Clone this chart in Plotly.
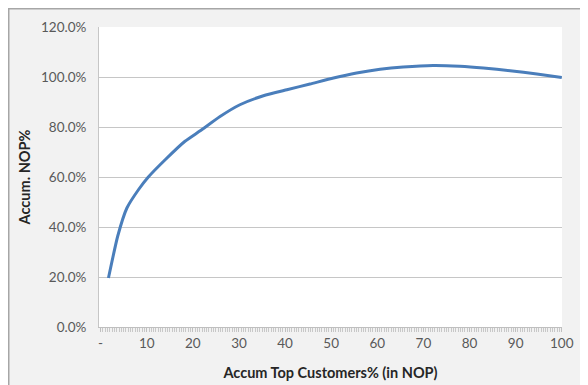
import plotly.graph_objects as go

# Accumulated top customers (% of customers, in NOP order)
customers_pct = [1.7, 3.7, 5.7, 8.2, 10.3, 14.0, 18.3, 21.6, 25.9, 30.2, 35.3,
                 40.4, 45.4, 50.5, 55.5, 60.6, 65.6, 72.1, 77.9, 83.0, 88.8,
                 94.6, 100.0]
# Accumulated NOP share
accum_nop = [0.196, 0.363, 0.476, 0.549, 0.599, 0.669, 0.743, 0.785, 0.842,
             0.889, 0.925, 0.949, 0.972, 0.996, 1.016, 1.031, 1.040, 1.046,
             1.043, 1.036, 1.025, 1.012, 0.998]

x_tickvals = [0, 10, 20, 30, 40, 50, 60, 70, 80, 90, 100]
x_ticktext = ["-", "10", "20", "30", "40", "50", "60", "70", "80", "90", "100"]
y_tickvals = [0, 0.2, 0.4, 0.6, 0.8, 1.0, 1.2]

FONT = "Lato, 'Open Sans', sans-serif"

W, H = 580, 377
L, R, T, B = 91, 26, 19, 58
PW, PH = W - L - R, H - T - B

fig = go.Figure()
fig.add_trace(go.Scatter(
    x=customers_pct, y=accum_nop, mode="lines",
    line=dict(color="#4a7ebb", width=3, shape="spline", smoothing=0.5),
    hoverinfo="skip", showlegend=False,
))

border = dict(color="#a6a6a6", width=1.5)
fig.update_layout(
    width=W, height=H,
    margin=dict(l=L, r=R, t=T, b=B),
    paper_bgcolor="#f2f2f2",
    plot_bgcolor="white",
    font=dict(family=FONT, size=13.5, color="#595959"),
    xaxis=dict(
        range=[-0.35, 100.05], automargin=False,
        tickmode="array", tickvals=x_tickvals, ticktext=x_ticktext,
        showgrid=False, zeroline=False,
        showline=True, linecolor="#bfbfbf", linewidth=1,
        ticks="outside", ticklen=4, tickcolor="#bfbfbf",
        minor=dict(dtick=0.5, ticks="outside", ticklen=4, tickcolor="#c8c8c8", showgrid=False),
        tickfont=dict(family=FONT, size=13.5, color="#595959"),
        title=dict(text="<b>Accum Top Customers% (in NOP)</b>",
                   font=dict(family=FONT, size=14.5, color="#262626"), standoff=17),
    ),
    yaxis=dict(
        range=[0, 1.2], automargin=False,
        tickmode="array", tickvals=y_tickvals, tickformat=".1%",
        showgrid=True, gridcolor="#c6c6c6", gridwidth=1,
        zeroline=False,
        showline=True, linecolor="#c6c6c6", linewidth=1,
        ticks="", ticklabelstandoff=9,
        tickfont=dict(family=FONT, size=13.5, color="#595959"),
        title=dict(text="<b>Accum. NOP%</b>",
                   font=dict(family=FONT, size=14.5, color="#262626"), standoff=6),
    ),
    shapes=[
        dict(type="line", xref="paper", yref="paper",
             x0=(-L + 0.75) / PW, x1=(-L + 0.75) / PW,
             y0=-B / PH, y1=(PH + T) / PH, line=border),
        dict(type="line", xref="paper", yref="paper",
             x0=(-L + 0.75) / PW, x1=(PW + R) / PW,
             y0=(PH + T - 0.75) / PH, y1=(PH + T - 0.75) / PH, line=border),
    ],
)

fig.write_html("out.html")
